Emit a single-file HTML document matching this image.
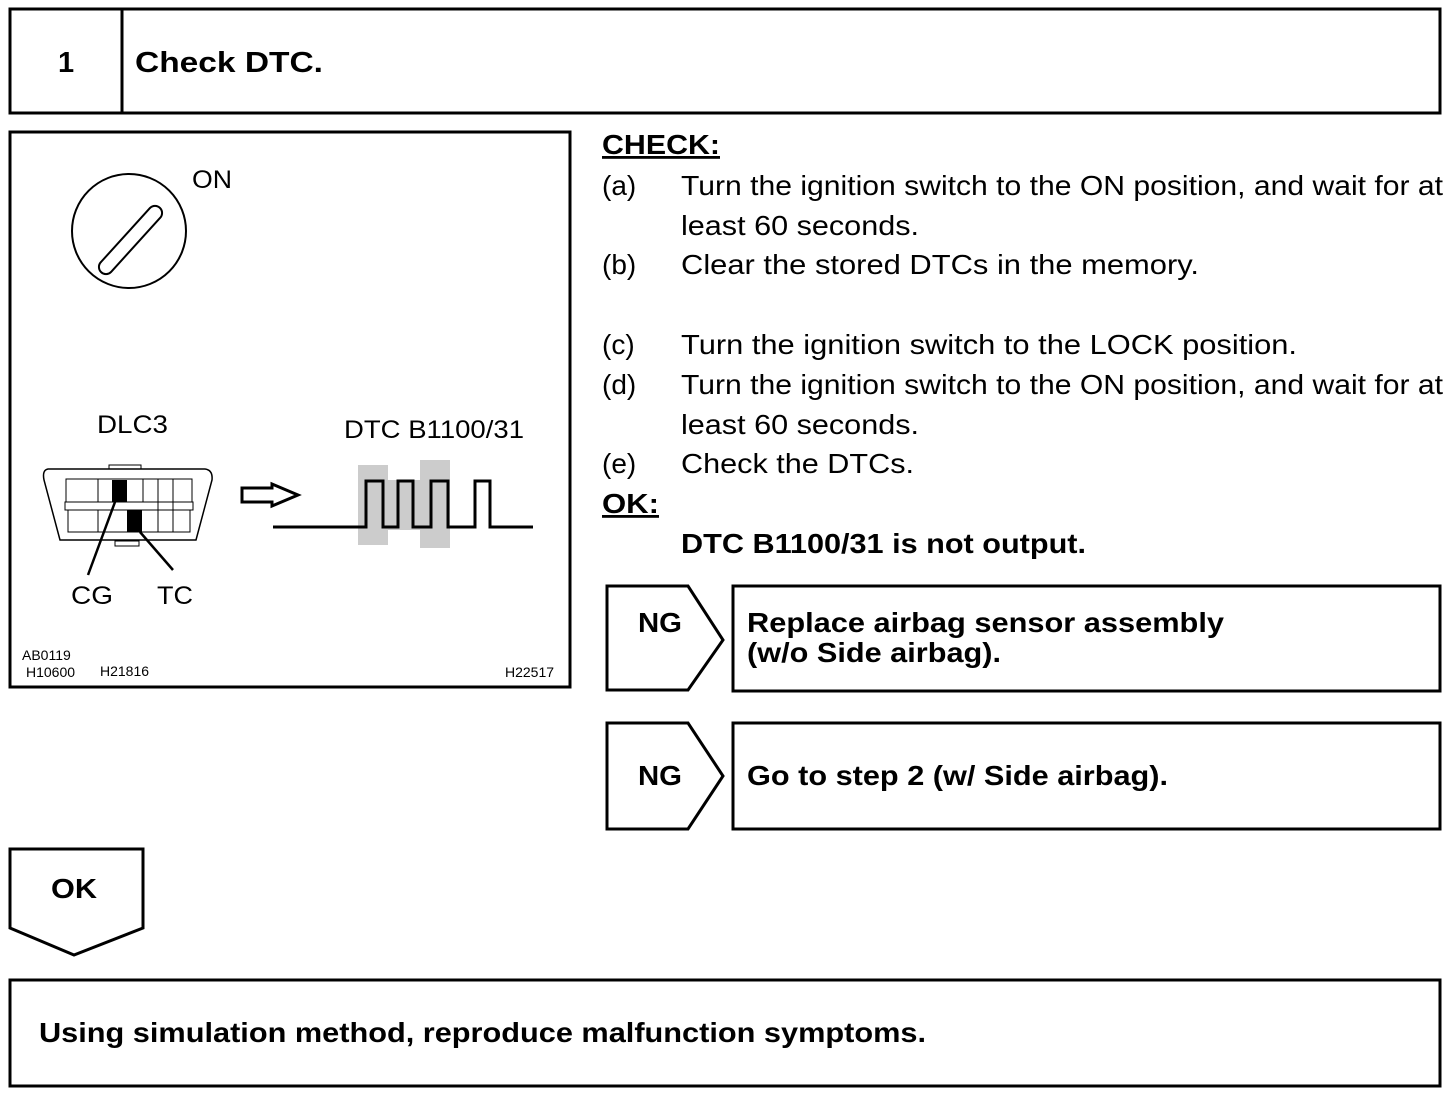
<!DOCTYPE html>
<html><head><meta charset="utf-8"><style>
html,body{margin:0;padding:0;background:#fff;}
svg{display:block;font-family:"Liberation Sans",Arial,sans-serif;}
</style></head><body>
<svg width="1456" height="1098" viewBox="0 0 1456 1098" xmlns="http://www.w3.org/2000/svg">
<g fill="none" stroke="#000" stroke-width="3">
<rect x="10" y="9" width="1430" height="104"/>
<line x1="122" y1="9" x2="122" y2="113"/>
<rect x="10" y="132" width="560" height="555"/>
<polygon points="607,586 688,586 723,640 688,690 607,690"/>
<rect x="733" y="586" width="707" height="105"/>
<polygon points="607,723 688,723 723,776 688,829 607,829"/>
<rect x="733" y="723" width="707" height="106"/>
<polygon points="10,849 143,849 143,928 74,955 10,928"/>
<rect x="10" y="980" width="1430" height="106"/>
</g>
<g fill="none" stroke="#000" stroke-width="2">
<circle cx="129" cy="231" r="57"/>
<path d="M101,262 L150,208 A7,7 0 0 1 160,218 L111,272 A7,7 0 0 1 101,262 Z"/>
</g>
<g fill="none" stroke="#000" stroke-width="1.5">
<path d="M48,469 L205,469 Q213,470 212,480 L196,540 L60,540 L44,480 Q42,470 48,469 Z"/>
<rect x="66" y="479" width="126" height="23" stroke-width="1"/>
<rect x="65" y="502" width="128" height="8" stroke-width="1"/>
<rect x="68" y="510" width="122" height="22" stroke-width="1"/>
<line x1="98" y1="479" x2="98" y2="502" stroke-width="1"/>
<line x1="143" y1="479" x2="143" y2="502" stroke-width="1"/>
<line x1="158" y1="479" x2="158" y2="532" stroke-width="1"/>
<line x1="173" y1="479" x2="173" y2="532" stroke-width="1"/>
<line x1="98" y1="510" x2="98" y2="532" stroke-width="1"/>
<rect x="115" y="541" width="24" height="5" stroke-width="1"/>
<rect x="109" y="465" width="32" height="4" stroke-width="1"/>
</g>
<rect x="112" y="480" width="15" height="22" fill="#000"/>
<rect x="127" y="510" width="15" height="22" fill="#000"/>
<g stroke="#000" stroke-width="2.5">
<line x1="115" y1="502" x2="88" y2="575"/>
<line x1="140" y1="532" x2="173" y2="570"/>
</g>
<polygon points="242,488 272,488 272,484 298,495 272,506 272,502 242,502" fill="none" stroke="#000" stroke-width="3"/>
<g fill="#ccc">
<rect x="358" y="465" width="30" height="80"/>
<rect x="420" y="460" width="30" height="88"/>
<rect x="388" y="480" width="32" height="50"/>
</g>
<polyline points="273,527 366,527 366,481 383,481 383,527 398,527 398,481 413,481 413,527 431,527 431,481 448,481 448,527 475,527 475,481 490,481 490,527 533,527" fill="none" stroke="#000" stroke-width="3"/>
<g fill="#000" lengthAdjust="spacingAndGlyphs">
<text x="58" y="72" font-size="29" font-weight="bold">1</text>
<text x="135" y="72" font-size="29" font-weight="bold" textLength="188" lengthAdjust="spacingAndGlyphs">Check DTC.</text>
<text x="192" y="188" font-size="25" textLength="40" lengthAdjust="spacingAndGlyphs">ON</text>
<text x="97" y="433" font-size="25" textLength="71" lengthAdjust="spacingAndGlyphs">DLC3</text>
<text x="344" y="438" font-size="25" textLength="180" lengthAdjust="spacingAndGlyphs">DTC B1100/31</text>
<text x="71" y="604" font-size="25" textLength="42" lengthAdjust="spacingAndGlyphs">CG</text>
<text x="157" y="604" font-size="25" textLength="36" lengthAdjust="spacingAndGlyphs">TC</text>
<text x="22" y="660" font-size="14">AB0119</text>
<text x="26" y="677" font-size="14">H10600</text>
<text x="100" y="676" font-size="14">H21816</text>
<text x="505" y="677" font-size="14">H22517</text>
<g font-size="28">
<text x="602" y="154" font-weight="bold" text-decoration="underline" textLength="118" lengthAdjust="spacingAndGlyphs">CHECK:</text>
<text x="602" y="195">(a)</text><text x="681" y="195" textLength="762" lengthAdjust="spacingAndGlyphs">Turn the ignition switch to the ON position, and wait for at</text>
<text x="681" y="235" textLength="238" lengthAdjust="spacingAndGlyphs">least 60 seconds.</text>
<text x="602" y="274">(b)</text><text x="681" y="274" textLength="518" lengthAdjust="spacingAndGlyphs">Clear the stored DTCs in the memory.</text>
<text x="602" y="354">(c)</text><text x="681" y="354" textLength="616" lengthAdjust="spacingAndGlyphs">Turn the ignition switch to the LOCK position.</text>
<text x="602" y="394">(d)</text><text x="681" y="394" textLength="762" lengthAdjust="spacingAndGlyphs">Turn the ignition switch to the ON position, and wait for at</text>
<text x="681" y="434" textLength="238" lengthAdjust="spacingAndGlyphs">least 60 seconds.</text>
<text x="602" y="473">(e)</text><text x="681" y="473" textLength="233" lengthAdjust="spacingAndGlyphs">Check the DTCs.</text>
<text x="602" y="513" font-weight="bold" text-decoration="underline" textLength="57" lengthAdjust="spacingAndGlyphs">OK:</text>
<text x="681" y="553" font-weight="bold" textLength="405" lengthAdjust="spacingAndGlyphs">DTC B1100/31 is not output.</text>
</g>
<g font-size="28" font-weight="bold">
<text x="638" y="632" textLength="44" lengthAdjust="spacingAndGlyphs">NG</text>
<text x="747" y="632" textLength="477" lengthAdjust="spacingAndGlyphs">Replace airbag sensor assembly</text>
<text x="747" y="662" textLength="254" lengthAdjust="spacingAndGlyphs">(w/o Side airbag).</text>
<text x="638" y="785" textLength="44" lengthAdjust="spacingAndGlyphs">NG</text>
<text x="747" y="785" textLength="421" lengthAdjust="spacingAndGlyphs">Go to step 2 (w/ Side airbag).</text>
<text x="51" y="898" textLength="46" lengthAdjust="spacingAndGlyphs">OK</text>
<text x="39" y="1042" textLength="887" lengthAdjust="spacingAndGlyphs">Using simulation method, reproduce malfunction symptoms.</text>
</g>
</g>
</svg>
</body></html>
